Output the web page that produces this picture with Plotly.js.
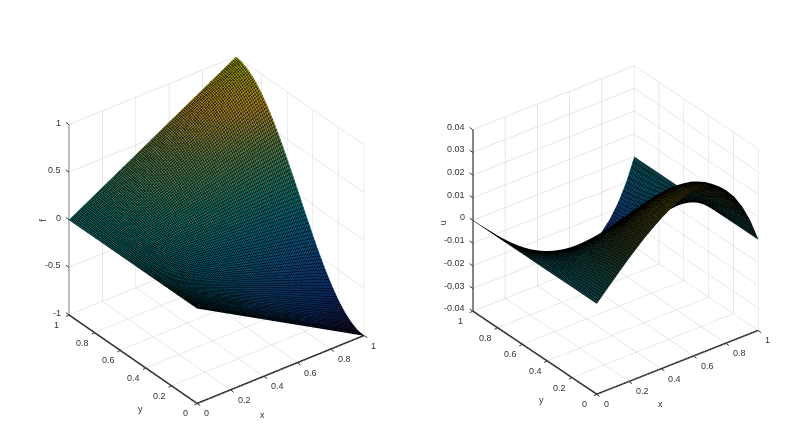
<!DOCTYPE html>
<html lang="en">
    <head>
        <meta charset="UTF-8">
        <title>f and u surfaces</title>
        <script src="https://cdn.plot.ly/plotly-3.0.1.min.js"></script>
        <style>
            html, body { margin: 0; padding: 0; background: #fff; }
            #plot { width: 805px; height: 437px; }
        </style>
    </head>
    <body>

        <div id="plot"></div>

        <script>
        // Grids: f is straight in x so it needs few columns
        const fX = [0, 0.2, 0.4, 0.6, 0.8, 1];
        const uX = [0, 0.05, 0.1, 0.15, 0.2, 0.25, 0.3, 0.35, 0.4, 0.45, 0.5, 0.55, 0.6, 0.65, 0.7, 0.75, 0.8, 0.85, 0.9, 0.95, 1];
        const yGrid = [0, 0.05, 0.1, 0.15, 0.2, 0.25, 0.3, 0.35, 0.4, 0.45, 0.5, 0.55, 0.6, 0.65, 0.7, 0.75, 0.8, 0.85, 0.9, 0.95, 1];

        // Left surface f, one row per y
        const fValues = [
            [0, -0.2, -0.4, -0.6, -0.8, -1],
            [0, -0.198, -0.395, -0.593, -0.79, -0.988],
            [0, -0.19, -0.38, -0.571, -0.761, -0.951],
            [0, -0.178, -0.356, -0.535, -0.713, -0.891],
            [0, -0.162, -0.324, -0.485, -0.647, -0.809],
            [0, -0.141, -0.283, -0.424, -0.566, -0.707],
            [0, -0.118, -0.235, -0.353, -0.47, -0.588],
            [0, -0.091, -0.182, -0.272, -0.363, -0.454],
            [0, -0.062, -0.124, -0.185, -0.247, -0.309],
            [0, -0.031, -0.062, -0.094, -0.125, -0.156],
            [0, 0, 0, 0, 0, 0],
            [0, 0.031, 0.062, 0.094, 0.125, 0.156],
            [0, 0.062, 0.124, 0.185, 0.247, 0.309],
            [0, 0.091, 0.182, 0.272, 0.363, 0.454],
            [0, 0.118, 0.235, 0.353, 0.47, 0.588],
            [0, 0.141, 0.283, 0.424, 0.566, 0.707],
            [0, 0.162, 0.324, 0.485, 0.647, 0.809],
            [0, 0.178, 0.356, 0.535, 0.713, 0.891],
            [0, 0.19, 0.38, 0.571, 0.761, 0.951],
            [0, 0.198, 0.395, 0.593, 0.79, 0.988],
            [0, 0.2, 0.4, 0.6, 0.8, 1]
        ];

        // Right surface u, one row per y, in units of 0.0001
        const uRows = [
            [0, 37, 73, 109, 144, 177, 209, 237, 264, 286, 305, 318, 326, 326, 319, 301, 273, 231, 173, 98, 0],
            [0, 37, 72, 108, 142, 175, 206, 234, 261, 283, 301, 314, 322, 322, 315, 297, 270, 228, 171, 97, 0],
            [0, 35, 69, 104, 137, 168, 199, 225, 251, 272, 290, 302, 310, 310, 303, 286, 260, 220, 165, 93, 0],
            [0, 33, 65, 97, 128, 158, 186, 211, 235, 255, 272, 283, 290, 290, 284, 268, 243, 206, 154, 87, 0],
            [0, 30, 59, 88, 116, 143, 169, 192, 214, 231, 247, 257, 264, 264, 258, 244, 221, 187, 140, 79, 0],
            [0, 26, 52, 77, 102, 125, 148, 168, 187, 202, 216, 225, 230, 230, 226, 213, 193, 163, 122, 69, 0],
            [0, 22, 43, 64, 85, 104, 123, 139, 155, 168, 179, 187, 192, 192, 188, 177, 161, 136, 102, 58, 0],
            [0, 17, 33, 49, 65, 80, 95, 108, 120, 130, 138, 144, 148, 148, 145, 137, 124, 105, 79, 44, 0],
            [0, 11, 23, 34, 44, 55, 65, 73, 82, 88, 94, 98, 101, 101, 99, 93, 84, 71, 53, 30, 0],
            [0, 6, 11, 17, 22, 28, 33, 37, 41, 45, 48, 50, 51, 51, 50, 47, 43, 36, 27, 15, 0],
            [0, 0, 0, 0, 0, 0, 0, 0, 0, 0, 0, 0, 0, 0, 0, 0, 0, 0, 0, 0, 0],
            [0, -6, -11, -17, -22, -28, -33, -37, -41, -45, -48, -50, -51, -51, -50, -47, -43, -36, -27, -15, 0],
            [0, -11, -23, -34, -44, -55, -65, -73, -82, -88, -94, -98, -101, -101, -99, -93, -84, -71, -53, -30, 0],
            [0, -17, -33, -49, -65, -80, -95, -108, -120, -130, -138, -144, -148, -148, -145, -137, -124, -105, -79, -44, 0],
            [0, -22, -43, -64, -85, -104, -123, -139, -155, -168, -179, -187, -192, -192, -188, -177, -161, -136, -102, -58, 0],
            [0, -26, -52, -77, -102, -125, -148, -168, -187, -202, -216, -225, -230, -230, -226, -213, -193, -163, -122, -69, 0],
            [0, -30, -59, -88, -116, -143, -169, -192, -214, -231, -247, -257, -264, -264, -258, -244, -221, -187, -140, -79, 0],
            [0, -33, -65, -97, -128, -158, -186, -211, -235, -255, -272, -283, -290, -290, -284, -268, -243, -206, -154, -87, 0],
            [0, -35, -69, -104, -137, -168, -199, -225, -251, -272, -290, -302, -310, -310, -303, -286, -260, -220, -165, -93, 0],
            [0, -37, -72, -108, -142, -175, -206, -234, -261, -283, -301, -314, -322, -322, -315, -297, -270, -228, -171, -97, 0],
            [0, -37, -73, -109, -144, -177, -209, -237, -264, -286, -305, -318, -326, -326, -319, -301, -273, -231, -173, -98, 0]
        ];
        const uValues = uRows.map(row => row.map(v => v / 10000));

        // Tick values and labels
        const xyTicks = [0, 0.2, 0.4, 0.6, 0.8, 1];
        const xyLabels = ['0', '0.2', '0.4', '0.6', '0.8', '1'];
        const fTicks = [-1, -0.5, 0, 0.5, 1];
        const fLabels = ['-1', '-0.5', '0', '0.5', '1'];
        const uTicks = [-0.04, -0.03, -0.02, -0.01, 0, 0.01, 0.02, 0.03, 0.04];
        const uLabels = ['-0.04', '-0.03', '-0.02', '-0.01', '0', '0.01', '0.02', '0.03', '0.04'];

        // Parula, darkened because the black mesh covers most of each cell in the original
        const fColors = [
            [0, '#1e184e'], [0.14, '#0e3a88'], [0.29, '#10528c'], [0.43, '#066a80'],
            [0.57, '#207a68'], [0.71, '#5a804c'], [0.86, '#b08826'], [1, '#a3a60a']
        ];
        const uColors = [
            [0, '#1c1648'], [0.14, '#1e2a80'], [0.29, '#14508a'], [0.43, '#0a5f72'],
            [0.57, '#14504a'], [0.71, '#2e3a1c'], [0.86, '#4a4210'], [1, '#3a340a']
        ];

        const textFont = { family: 'Liberation Sans, Arial, sans-serif', size: 9, color: '#333333' };

        function surfaceTrace(x, z, scene, zmin, zmax, colors) {
            const line = { show: true, start: 0, end: 1, size: 0.01, color: '#000000', width: 1 };
            return {
                type: 'surface', scene: scene, x: x, y: yGrid, z: z,
                cmin: zmin, cmax: zmax, colorscale: colors, showscale: false, hoverinfo: 'skip',
                lighting: { ambient: 1, diffuse: 0, specular: 0, roughness: 1, fresnel: 0 },
                contours: { x: line, y: line }
            };
        }

        function axisStyle(ticks, range) {
            return {
                range: range, tickvals: ticks, ticktext: ticks.map(() => ''), title: { text: '' },
                showgrid: true, gridcolor: '#cfcfcf', gridwidth: 1, zeroline: false,
                showbackground: false, showline: false, ticks: '', showspikes: false
            };
        }

        // Axis lines along the three front edges
        function axisTrace(scene, zTicks, zColor) {
            const zMin = zTicks[0];
            const zMax = zTicks[zTicks.length - 1];
            const common = { type: 'scatter3d', mode: 'lines', scene: scene, hoverinfo: 'skip', showlegend: false };
            return [
                Object.assign({ x: [1, 0, 0], y: [0, 0, 1], z: [zMin, zMin, zMin], line: { color: '#111111', width: 3 } }, common),
                Object.assign({ x: [0, 0], y: [1, 1], z: [zMin, zMax], line: { color: zColor, width: 3 } }, common)
            ];
        }

        // Tick marks, labels and axis titles as scene annotations, so they stay real text
        function sceneLabels(zTicks, zLabels, zName, zMin, t) {
            const note = (x, y, z, text, extra) => Object.assign(
                { x: x, y: y, z: z, text: text, showarrow: false, font: textFont }, extra);
            // a tick is an arrow with no head; the 1px box keeps it from being clipped away
            const tick = (x, y, z, ax, ay) => note(x, y, z, ' ', {
                showarrow: true, arrowhead: 0, arrowwidth: 1, arrowcolor: '#333333', ax: ax, ay: ay,
                standoff: 0, width: 1, height: 1, borderpad: 0, font: { size: 1 }
            });
            const out = [];
            xyTicks.forEach((v, i) => {
                out.push(tick(v, 0, zMin, 4, 3));
                out.push(tick(0, v, zMin, -4, 2));
                out.push(note(v, 0, zMin, xyLabels[i], { xanchor: 'left', xshift: 5, yshift: -t.tickY }));
                out.push(note(0, v, zMin, xyLabels[i], { xshift: -12, yshift: -10 }));
            });
            zTicks.forEach((v, i) => {
                out.push(tick(0, 1, v, -4, -3));
                out.push(note(0, 1, v, zLabels[i], { xanchor: 'right', xshift: -6, yshift: t.zLabelY }));
            });
            out.push(note(0.5, 0, zMin, 'x', { xshift: t.xTitle[0], yshift: -t.xTitle[1] }));
            out.push(note(0, 0.5, zMin, 'y', { xshift: t.yTitle[0], yshift: -t.yTitle[1] }));
            out.push(note(0, 1, 0, zName, { xshift: t.zTitle, yshift: t.zTitleY, textangle: -90 }));
            return out;
        }

        function sceneLayout(xDomain, ticks, labels, name, range, aspect, eye, t) {
            return {
                domain: { x: xDomain, y: [0, 0.947] },
                aspectmode: 'manual',
                aspectratio: aspect,
                camera: {
                    eye: eye,
                    up: { x: 0, y: 0, z: 1 },
                    center: { x: 0, y: 0, z: 0 },
                    projection: { type: 'orthographic' }
                },
                xaxis: axisStyle(xyTicks, [0, 1]),
                yaxis: axisStyle(xyTicks, [0, 1]),
                zaxis: axisStyle(ticks, range),
                annotations: sceneLabels(ticks, labels, name, range[0], t)
            };
        }

        const layout = {
            width: 805, height: 437,
            margin: { l: 0, r: 0, t: 0, b: 0 },
            paper_bgcolor: '#ffffff',
            showlegend: false,
            scene: sceneLayout([0.0336, 0.5046], fTicks, fLabels, 'f', [-1, 1],
                { x: 1.017, y: 1.017, z: 1.085 }, { x: -1.014, y: -1.321, z: 1.042 },
                { tickY: 10, zLabelY: 2, xTitle: [-18, 45], yTitle: [7, 50], zTitle: -26, zTitleY: 0 }),
            scene2: sceneLayout([0.529, 1], uTicks, uLabels, 'u', [-0.04, 0.04],
                { x: 0.983, y: 0.983, z: 1.023 }, { x: -1.06, y: -1.38, z: 1.045 },
                { tickY: 10, zLabelY: 3, xTitle: [-17, 42], yTitle: [7, 47], zTitle: -29, zTitleY: -2 })
        };

        Plotly.newPlot('plot', [
            surfaceTrace(fX, fValues, 'scene', -1, 1, fColors),
            surfaceTrace(uX, uValues, 'scene2', -0.04, 0.04, uColors),
            ...axisTrace('scene', fTicks, '#999999'),
            ...axisTrace('scene2', uTicks, '#333333')
        ], layout, { displayModeBar: false });
        </script>

    </body>
</html>
